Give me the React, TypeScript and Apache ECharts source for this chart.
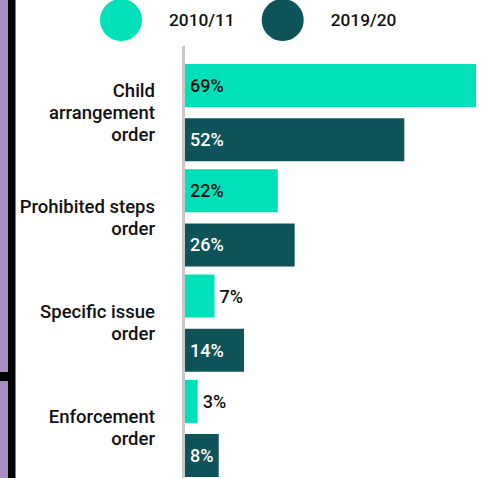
import React, { useEffect, useRef } from "react";
import * as echarts from "echarts";

const categories = [
  "Child\narrangement\norder",
  "Prohibited steps\norder",
  "Specific issue\norder",
  "Enforcement\norder",
];
const seriesNames = ["2010/11", "2019/20"];
const values2010 = [69, 22, 7, 3];
const values2019 = [52, 26, 14, 8];

const LIGHT = "#00E1B9";
const DARK = "#0D5358";
const FONT = "Roboto, 'Noto Sans', sans-serif";

function buildData(values: number[], insideColor: string) {
  return values.map((v) => {
    const inside = v >= 8;
    return {
      value: v,
      label: {
        position: inside ? "insideLeft" : "right",
        distance: 5,
        color: inside ? insideColor : "#111111",
      },
    };
  });
}

export default function App() {
  const ref = useRef<HTMLDivElement>(null);
  useEffect(() => {
    if (!ref.current) return;
    const chart = echarts.init(ref.current, undefined, { renderer: "svg" });
    const labelBase = {
      show: true,
      formatter: "{c}%",
      fontSize: 18,
      fontWeight: 500,
      fontFamily: FONT,
    };
    chart.setOption({
      animation: false,
      backgroundColor: "#ffffff",
      legend: {
        data: seriesNames,
        left: 100,
        top: -1,
        padding: 0,
        icon: "circle",
        itemWidth: 42,
        itemHeight: 42,
        itemGap: 27,
        textStyle: {
          fontSize: 17.3,
          fontWeight: 500,
          fontFamily: FONT,
          color: "#111111",
          padding: [0, 0, 0, 22],
        },
      },
      grid: { left: 185, right: 6, top: 60, bottom: 9, containLabel: false },
      xAxis: {
        type: "value",
        min: 0,
        max: 69,
        show: false,
        splitLine: { show: false },
      },
      yAxis: {
        type: "category",
        inverse: true,
        data: categories,
        axisLine: { show: false },
        axisTick: { show: false },
        axisLabel: {
          fontSize: 18.5,
          fontWeight: 500,
          fontFamily: FONT,
          color: "#111111",
          lineHeight: 22,
          margin: 30,
          align: "right",
        },
      },
      graphic: [
        { type: "rect", shape: { x: 0, y: 0, width: 8, height: 490 }, style: { fill: "#A88CC4" } },
        { type: "rect", shape: { x: 8, y: 0, width: 7.5, height: 490 }, style: { fill: "#000000" } },
        { type: "rect", shape: { x: 0, y: 372, width: 15, height: 9 }, style: { fill: "#000000" } },
        { type: "rect", shape: { x: 182, y: 46, width: 3, height: 444 }, style: { fill: "#C8C8C8" } },
      ],
      series: [
        {
          name: seriesNames[0],
          type: "bar",
          barWidth: 43,
          barGap: "25.6%",
          itemStyle: { color: LIGHT },
          label: labelBase,
          data: buildData(values2010, "#111111"),
        },
        {
          name: seriesNames[1],
          type: "bar",
          barWidth: 43,
          barGap: "25.6%",
          itemStyle: { color: DARK },
          label: labelBase,
          data: buildData(values2019, "#ffffff"),
        },
      ],
    });
    return () => chart.dispose();
  }, []);
  return (
    <div
      style={{
        position: "fixed",
        left: 0,
        top: 0,
        width: 482,
        height: 478,
        overflow: "hidden",
      }}
    >
      <div ref={ref} style={{ width: 482, height: 490 }} />
    </div>
  );
}
